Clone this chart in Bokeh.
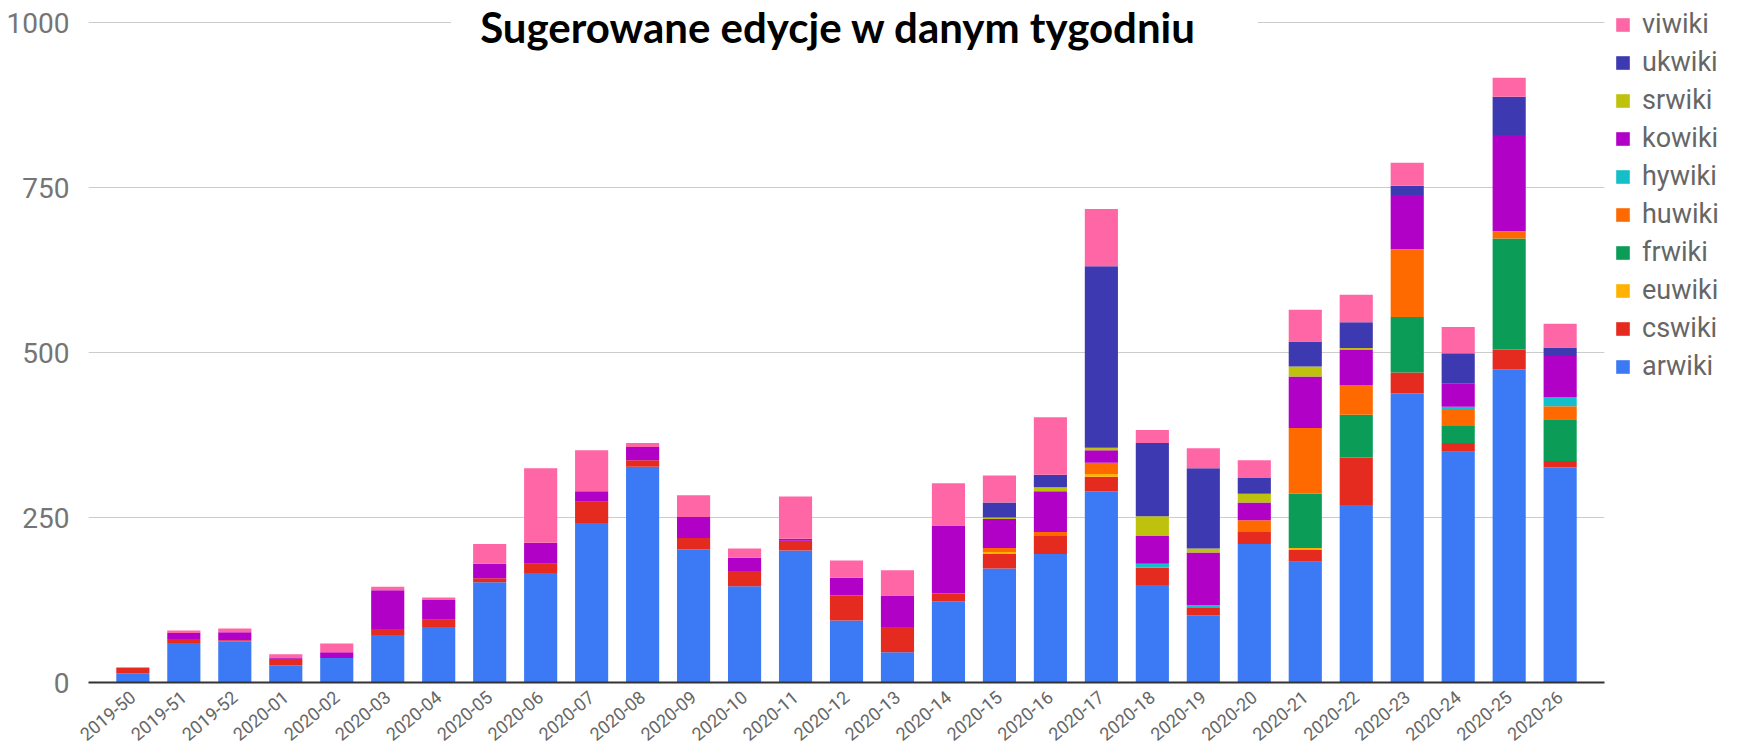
from bokeh.plotting import figure
from bokeh.models import (FactorRange, Range1d, Legend, LegendItem, Label,
                          FixedTicker, ColumnDataSource)
from bokeh.embed import file_html
from bokeh.resources import INLINE

weeks = ["2019-50", "2019-51", "2019-52", "2020-01", "2020-02", "2020-03",
         "2020-04", "2020-05", "2020-06", "2020-07", "2020-08", "2020-09",
         "2020-10", "2020-11", "2020-12", "2020-13", "2020-14", "2020-15",
         "2020-16", "2020-17", "2020-18", "2020-19", "2020-20", "2020-21",
         "2020-22", "2020-23", "2020-24", "2020-25", "2020-26"]

arwiki = [14, 60, 62, 26, 37, 72, 84, 152, 166, 242, 327, 202, 146, 200, 94,
          46, 123, 173, 195, 290, 148, 102, 210, 183, 269, 438, 350, 475, 326]
cswiki = [8, 6, 2, 10, 0, 9, 11, 6, 14, 32, 10, 17, 23, 15, 38,
          38, 12, 22, 27, 22, 26, 12, 18, 18, 72, 32, 13, 30, 10]
euwiki = [0, 0, 0, 0, 0, 0, 0, 0, 0, 0, 0, 0, 0, 0, 0,
          0, 0, 3, 0, 4, 0, 0, 0, 3, 0, 0, 0, 0, 0]
frwiki = [0, 0, 0, 0, 0, 0, 0, 0, 0, 0, 0, 0, 0, 0, 0,
          0, 0, 0, 0, 0, 0, 0, 0, 82, 65, 84, 26, 168, 63]
huwiki = [0, 0, 0, 0, 0, 0, 0, 0, 0, 0, 0, 0, 0, 0, 0,
          0, 0, 6, 6, 17, 0, 0, 18, 100, 45, 103, 24, 11, 20]
hywiki = [0, 0, 0, 0, 0, 0, 0, 0, 0, 0, 0, 0, 0, 0, 0,
          0, 0, 0, 0, 0, 6, 3, 0, 0, 0, 0, 5, 0, 14]
kowiki = [0, 9, 12, 1, 9, 59, 30, 22, 32, 16, 20, 32, 20, 3, 27,
          48, 103, 44, 62, 19, 42, 80, 27, 78, 54, 82, 35, 146, 62]
srwiki = [0, 0, 0, 0, 0, 0, 0, 0, 0, 0, 0, 0, 0, 0, 0,
          0, 0, 2, 6, 4, 30, 6, 13, 15, 2, 0, 0, 0, 0]
ukwiki = [0, 0, 0, 0, 0, 0, 0, 0, 0, 0, 0, 0, 0, 0, 0,
          0, 0, 23, 19, 275, 111, 122, 24, 38, 39, 14, 46, 58, 13]
viwiki = [1, 4, 6, 6, 13, 5, 4, 30, 113, 62, 6, 33, 14, 64, 26,
          38, 64, 41, 87, 87, 20, 30, 27, 48, 42, 35, 40, 29, 36]

series_names = ["arwiki", "cswiki", "euwiki", "frwiki", "huwiki",
                "hywiki", "kowiki", "srwiki", "ukwiki", "viwiki"]
series_values = [arwiki, cswiki, euwiki, frwiki, huwiki,
                 hywiki, kowiki, srwiki, ukwiki, viwiki]
colors = ["#3c7af5", "#e52b1f", "#ffb300", "#0b9d57", "#ff6a00",
          "#14bfc9", "#b201c7", "#bec20c", "#3d3ab1", "#ff66a6"]
y_ticks = [0, 250, 500, 750, 1000]
title_text = "Sugerowane edycje w danym tygodniu"

data = {"week": weeks}
for name, vals in zip(series_names, series_values):
    data[name] = vals
source = ColumnDataSource(data=data)

p = figure(
    x_range=FactorRange(*weeks, range_padding=0.37, range_padding_units="absolute"),
    y_range=Range1d(0, 1034),
    frame_width=1516, frame_height=682,
    min_border_left=88, min_border_top=0, min_border_bottom=66,
    min_border_right=150,
    output_backend="svg", toolbar_location=None,
    outline_line_color=None,
)

renderers = p.vbar_stack(series_names, x="week", width=0.65, source=source,
                         fill_color=colors, line_color=None)

items = [LegendItem(label=n, renderers=[r])
         for n, r in reversed(list(zip(series_names, renderers)))]
legend = Legend(items=items, location=(10, 300), orientation="vertical",
                glyph_width=17, glyph_height=17, label_standoff=11,
                label_text_font="Roboto", label_text_font_size="27px",
                label_text_color="#666666", label_height=24, spacing=6,
                padding=0, margin=0, border_line_color=None,
                background_fill_alpha=0)
p.add_layout(legend, "right")

p.xgrid.grid_line_color = None
p.ygrid.grid_line_color = "#cccccc"
p.ygrid.grid_line_width = 1

p.yaxis.ticker = FixedTicker(ticks=y_ticks)
p.yaxis.axis_line_color = None
p.yaxis.major_tick_line_color = None
p.yaxis.minor_tick_line_color = None
p.yaxis.major_label_text_font = "Roboto"
p.yaxis.major_label_text_font_size = "28px"
p.yaxis.major_label_text_color = "#757575"
p.yaxis.major_label_standoff = 13

p.xaxis.axis_line_color = "#333333"
p.xaxis.axis_line_width = 2
p.xaxis.major_tick_line_color = None
p.xaxis.minor_tick_line_color = None
p.xaxis.major_label_orientation = 0.7
p.xaxis.major_label_text_font = "Roboto"
p.xaxis.major_label_text_font_size = "18px"
p.xaxis.major_label_text_color = "#666666"
p.xaxis.major_label_standoff = 6

title = Label(x=14.655, y=994.2, text=title_text, text_font="Lato",
              text_font_style="bold", text_font_size="42px",
              text_color="#000000", text_align="center",
              text_baseline="alphabetic",
              background_fill_color="white",
              padding=dict(left=29, right=61, top=0, bottom=0))
p.add_layout(title)

open("out.html", "w").write(file_html(p, INLINE))
